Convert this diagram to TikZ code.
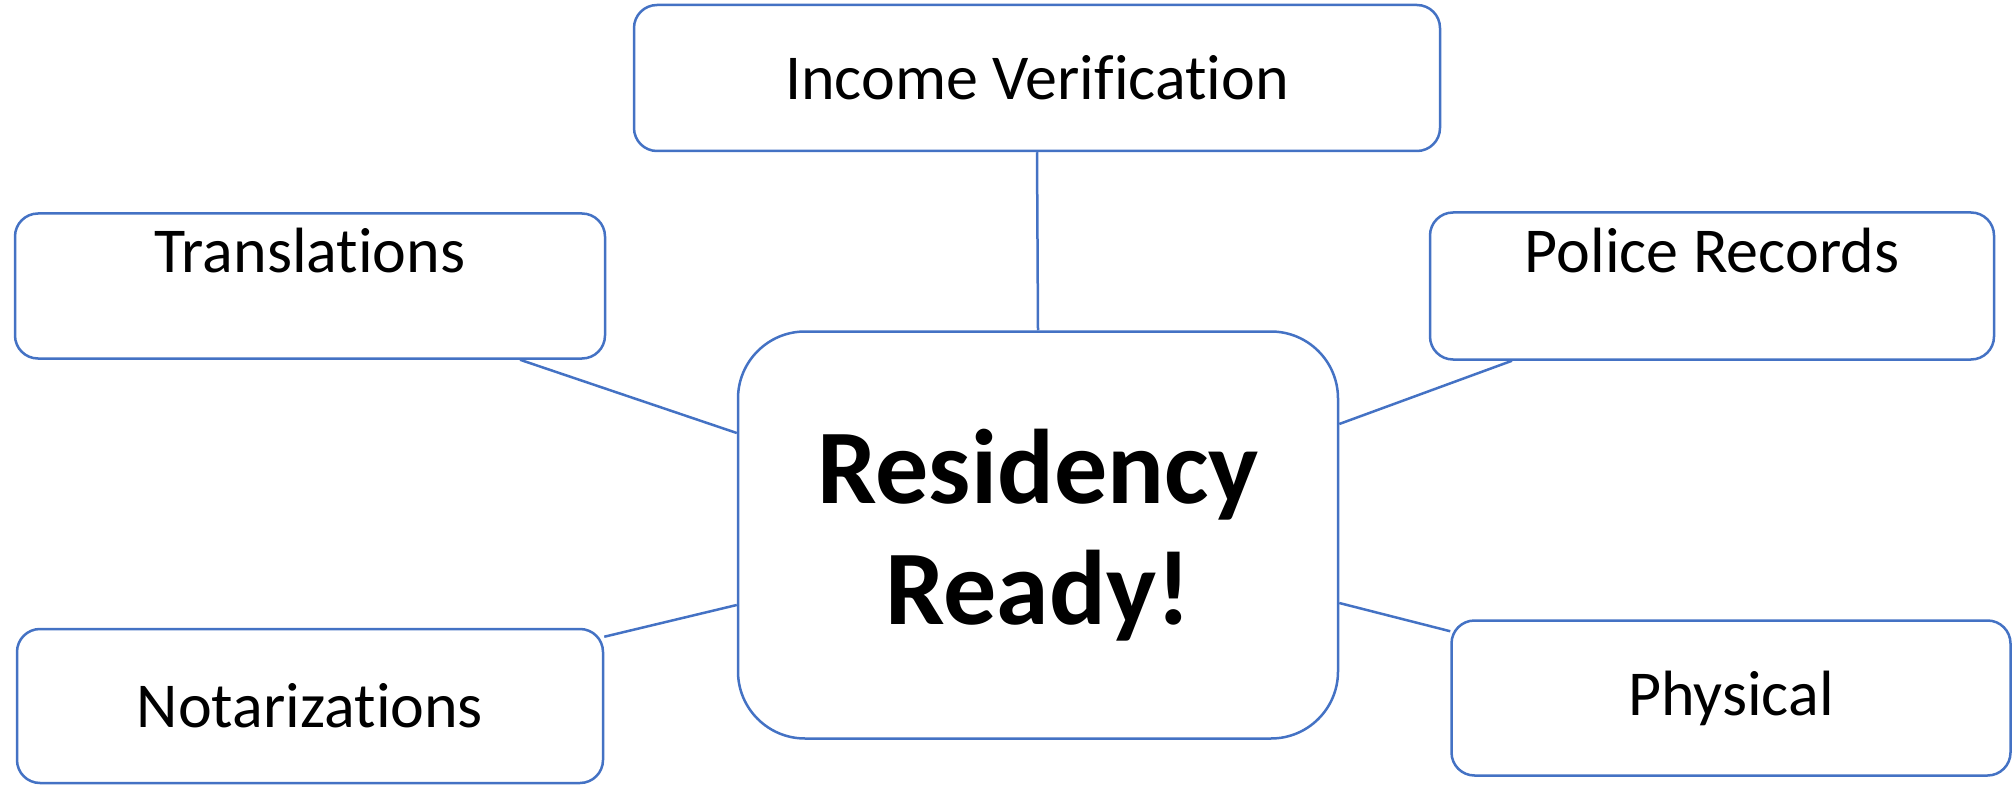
\documentclass[tikz,border=0pt]{standalone}
\usepackage{fontspec}
\setmainfont{Carlito}[Ligatures={NoCommon}]
\usetikzlibrary{calc}
\definecolor{lineblue}{HTML}{4472C4}
\tikzset{
  leafbox/.style={draw=lineblue, line width=2.5pt, rounded corners=23pt, fill=white,
    inner sep=0pt, align=center, font=\fontsize{64}{77}\selectfont},
  hubbox/.style={draw=lineblue, line width=2.5pt, rounded corners=67pt, fill=white,
    inner sep=0pt, align=center, font=\fontsize{106}{121}\selectfont\bfseries},
  link/.style={draw=lineblue, line width=2.5pt}
}
\newcommand{\liftup}[1]{\raisebox{35pt}[\height][\depth]{#1}}
\begin{document}
\begin{tikzpicture}[x=1pt,y=1pt]
\useasboundingbox (0,0) rectangle (2013,-786);
\node[hubbox, minimum width=600pt, minimum height=407pt] (hub) at (1038,-535) {Residency\\Ready!};
\node[leafbox, minimum width=806pt, minimum height=146pt] (inc) at (1037,-78) {Income Verification};
\node[leafbox, minimum width=590pt, minimum height=145pt] (trans) at (310,-286) {\liftup{Translations}};
\node[leafbox, minimum width=564pt, minimum height=147pt] (police) at (1712,-286) {\liftup{Police Records}};
\node[leafbox, minimum width=586pt, minimum height=154pt] (notar) at (310,-706) {Notarizations};
\node[leafbox, minimum width=559pt, minimum height=155pt] (phys) at (1731,-698) {Physical};
\draw[link] (inc.south) -- (hub.north);
\draw[link] ([xshift=210pt]trans.south) -- ([yshift=102pt]hub.west);
\draw[link] ([xshift=-200pt]police.south) -- ([yshift=111pt]hub.east);
\draw[link] ([yshift=-9pt]notar.north east) -- ([yshift=-70pt]hub.west);
\draw[link] ([yshift=-68pt]hub.east) -- ([yshift=-12pt]phys.north west);
\end{tikzpicture}
\end{document}
